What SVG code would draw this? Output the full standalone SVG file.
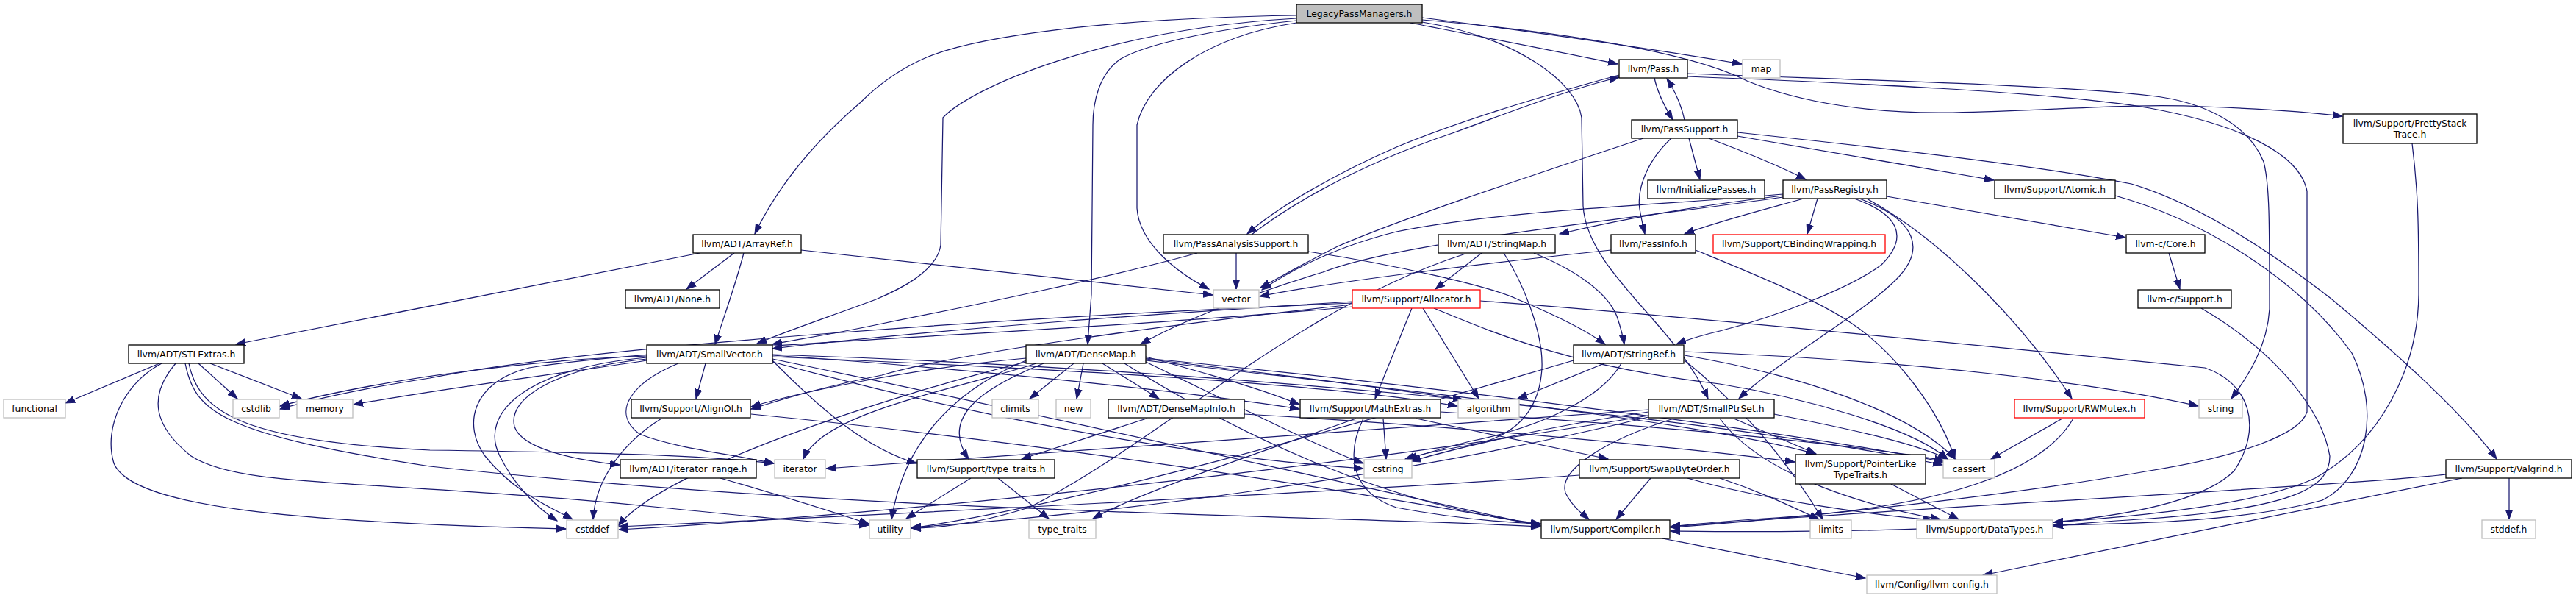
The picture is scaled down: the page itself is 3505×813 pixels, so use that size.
<svg xmlns="http://www.w3.org/2000/svg" width="3505" height="813" viewBox="0 0 3505 813">
<style>
.n rect{fill:#fff;stroke:#000;stroke-width:1.3}
.n.g rect{stroke:#bfbfbf}
.n.r rect{stroke:#ff0000}
.n.root rect{fill:#bfbfbf}
text{font-family:"DejaVu Sans","Liberation Sans",sans-serif;font-size:12.4px;text-anchor:middle;fill:#000}
#edges path{fill:none;stroke:#191970;stroke-width:1.25;marker-end:url(#a)}
</style>
<defs>
<marker id="a" markerUnits="userSpaceOnUse" markerWidth="14" markerHeight="11" refX="13" refY="5.5" orient="auto" viewBox="0 0 14 11"><path d="M0,0.8 L13,5.5 L0,10.2z" fill="#191970" stroke="#191970" stroke-width="1"/></marker>
</defs>
<rect width="3505" height="813" fill="#fff"/>
<g id="edges">
<path d="M1919,31 C2000,47 2120,70 2201,87"/>
<path d="M1935,24 C2100,45 2250,67 2370,87"/>
<path d="M1935,27 C2150,45 2310,75 2377,110 C2450,140 2550,155 2657,153 C2800,150 2900,140 3000,145 C3080,148 3140,152 3187,158"/>
<path d="M1935,30 C2060,50 2145,110 2152,160 L2154,280 C2160,370 2280,440 2324,542"/>
<path d="M1764,21 C1500,25 1330,50 1263,77 C1220,95 1190,120 1170,140 C1100,200 1055,260 1027,318"/>
<path d="M1764,25 C1500,40 1320,120 1283,160 L1280,333 C1275,370 1220,395 1192,407 C1130,430 1070,450 1030,467"/>
<path d="M1764,28 C1650,40 1560,60 1525,80 C1495,100 1487,140 1487,170 L1485,400 C1483,430 1481,450 1480,468"/>
<path d="M1764,31 C1640,50 1560,110 1547,170 L1547,283 C1550,330 1600,370 1645,393"/>
<path d="M2251,106 C2255,125 2265,145 2276,163"/>
<path d="M2292,163 C2288,145 2280,125 2268,107"/>
<path d="M2203,102 C2100,130 1979,167 1900,200 C1820,235 1740,280 1697,318"/>
<path d="M1703,319 C1740,290 1830,230 1979,180 C2060,150 2140,120 2203,105"/>
<path d="M2296,100 C2500,108 2800,115 2925,130 C3000,138 3060,170 3080,220 C3088,250 3088,300 3088,420 C3085,470 3060,510 3036,542"/>
<path d="M2296,104 C2500,112 2800,125 2925,147 C3050,170 3130,210 3139,260 L3139,560 C3130,590 3050,620 2925,640 C2700,680 2400,708 2273,717"/>
<path d="M2236,188 C2050,250 1900,300 1820,335 C1780,355 1745,375 1715,391"/>
<path d="M2274,188 C2240,220 2225,260 2232,290 C2234,300 2236,310 2238,318"/>
<path d="M2298,188 L2313,244"/>
<path d="M2325,188 C2370,205 2420,225 2457,244"/>
<path d="M2364,185 L2713,245"/>
<path d="M2364,180 C2600,205 2800,230 2900,250 C3000,280 3100,350 3173,407 C3260,480 3350,560 3397,624"/>
<path d="M2473,270 L2459,318"/>
<path d="M2567,267 L2892,323"/>
<path d="M2454,270 C2400,285 2340,300 2292,318"/>
<path d="M2426,266 C2340,276 2240,290 2122,318"/>
<path d="M2426,264 C2250,280 2050,285 1900,315 C1820,335 1760,365 1717,394"/>
<path d="M2426,268 C2200,300 1900,330 1800,370 C1700,400 1600,440 1552,468"/>
<path d="M2523,270 C2580,290 2600,320 2560,360 C2520,390 2420,430 2340,450 C2310,457 2295,462 2281,468"/>
<path d="M2530,270 C2610,300 2620,340 2580,380 C2530,430 2420,490 2366,542"/>
<path d="M2540,270 C2650,330 2760,450 2819,542"/>
<path d="M2192,340 C2000,360 1800,385 1714,403"/>
<path d="M2307,340 C2380,370 2472,407 2520,440 C2580,480 2640,560 2660,624"/>
<path d="M2878,266 C3000,300 3128,380 3200,480 C3240,560 3220,650 3160,680 C3050,710 2900,712 2794,714"/>
<path d="M2951,344 L2966,393"/>
<path d="M2995,419 C3100,480 3160,560 3170,620 C3170,660 3130,690 2925,705 C2850,710 2820,712 2794,716"/>
<path d="M3282,195 C3290,260 3291,300 3291,400 C3290,500 3240,600 3150,650 C3000,720 2500,725 2273,722"/>
<path d="M3414,650 L3414,706"/>
<path d="M3328,645 C3200,660 2600,690 2273,716"/>
<path d="M3350,650 C3150,690 2900,740 2698,782"/>
<path d="M999,344 L934,393"/>
<path d="M1012,344 C1000,390 985,430 973,468"/>
<path d="M952,344 L321,468"/>
<path d="M1090,340 L1650,401"/>
<path d="M1682,344 L1682,393"/>
<path d="M1629,344 C1500,380 1300,420 1200,440 C1130,455 1080,462 1051,468"/>
<path d="M1780,342 C1900,360 2030,390 2065,407 C2120,430 2160,450 2184,468"/>
<path d="M2016,344 L1953,393"/>
<path d="M2087,344 C2150,370 2188,400 2200,430 C2205,445 2208,455 2210,468"/>
<path d="M2046,344 C2070,380 2100,450 2098,500 C2095,560 2060,595 2000,605 C1960,612 1930,618 1912,624"/>
<path d="M1994,345 C1760,420 1580,600 1400,690 C1320,715 1270,718 1240,718"/>
<path d="M1921,419 L1871,542"/>
<path d="M1936,419 L2012,542"/>
<path d="M1840,410 C1600,425 1300,445 1051,474"/>
<path d="M1840,414 C1600,440 1300,480 1200,510 C1100,530 1050,548 1022,556"/>
<path d="M1840,417 C1500,450 900,470 720,500 C640,520 630,580 660,620 C700,670 750,690 779,706"/>
<path d="M1840,412 C1400,430 800,470 585,514 C480,530 420,545 381,556"/>
<path d="M2014,409 C2300,430 2800,480 3000,500 C3060,520 3080,580 3040,640 C3000,680 2900,700 2794,710"/>
<path d="M1951,419 C2050,460 2150,500 2340,522 C2450,540 2600,580 2650,624"/>
<path d="M960,494 L947,542"/>
<path d="M880,488 C760,500 690,540 700,580 C710,610 780,625 843,632"/>
<path d="M923,494 C860,520 830,560 870,590 C920,610 1000,618 1053,630"/>
<path d="M880,486 C720,500 650,560 680,620 C700,660 730,690 758,708"/>
<path d="M880,484 C700,490 500,520 381,552"/>
<path d="M880,490 C750,510 620,525 481,550"/>
<path d="M1051,488 C1400,560 1800,650 2096,715"/>
<path d="M1051,483 C1300,500 1600,530 1768,556"/>
<path d="M1051,490 C1120,560 1180,610 1247,630"/>
<path d="M1051,485 C1400,500 1800,520 1983,552"/>
<path d="M1051,482 C1600,500 2300,560 2643,632"/>
<path d="M1051,492 C1300,560 1600,620 1855,637"/>
<path d="M1461,494 L1401,542"/>
<path d="M1474,494 L1465,542"/>
<path d="M1500,494 L1577,542"/>
<path d="M1420,494 C1330,530 1280,570 1318,624"/>
<path d="M1396,490 C1300,530 1230,600 1213,706"/>
<path d="M1396,487 C1250,500 1100,530 1022,553"/>
<path d="M1410,494 C1300,530 1120,560 1093,624"/>
<path d="M1396,492 C1200,540 900,640 841,715"/>
<path d="M1559,485 C1650,510 1720,530 1768,550"/>
<path d="M1559,488 C1750,510 1900,530 1990,543"/>
<path d="M1559,487 C1900,520 2400,580 2645,628"/>
<path d="M1559,492 C1700,560 1800,610 1855,630"/>
<path d="M1530,494 C1700,600 1900,690 2096,712"/>
<path d="M1559,490 C1900,530 2300,570 2470,617"/>
<path d="M1560,569 L1390,624"/>
<path d="M1693,563 C2000,580 2300,610 2442,628"/>
<path d="M1321,650 L1233,705"/>
<path d="M1358,650 L1427,705"/>
<path d="M980,650 C1050,670 1130,695 1182,712"/>
<path d="M900,569 C850,600 810,650 807,706"/>
<path d="M1022,563 C1400,600 1800,660 2096,714"/>
<path d="M1882,569 L1886,624"/>
<path d="M1855,569 C1830,620 1840,670 1900,690 C1980,705 2040,710 2096,712"/>
<path d="M1927,569 L2188,624"/>
<path d="M1845,569 C1700,620 1550,670 1487,705"/>
<path d="M1960,560 C2200,575 2500,600 2645,626"/>
<path d="M2277,569 C2180,600 2120,640 2130,670 C2140,690 2155,700 2162,706"/>
<path d="M2359,569 L2471,617"/>
<path d="M2340,569 C2400,650 2550,690 2640,706"/>
<path d="M2414,563 C2500,580 2600,600 2650,624"/>
<path d="M2243,565 C1800,640 1200,700 842,720"/>
<path d="M2243,560 C2100,580 1980,610 1920,627"/>
<path d="M2243,557 C1900,580 1400,620 1124,637"/>
<path d="M2243,567 C1900,650 1500,700 1240,717"/>
<path d="M2246,650 L2199,706"/>
<path d="M2296,650 C2400,680 2550,700 2630,707"/>
<path d="M2340,650 C2400,670 2440,690 2475,706"/>
<path d="M2149,646 C1800,670 1200,700 842,716"/>
<path d="M2183,494 L2065,542"/>
<path d="M2206,494 C2180,540 2100,580 2000,600 C1960,610 1935,618 1915,624"/>
<path d="M2292,483 C2450,510 2600,560 2660,624"/>
<path d="M2292,478 C2600,490 2850,520 2991,552"/>
<path d="M2292,490 C2380,560 2440,640 2480,706"/>
<path d="M2141,490 C1900,560 1500,680 1240,718"/>
<path d="M2573,658 L2665,706"/>
<path d="M2806,569 L2709,624"/>
<path d="M2821,569 C2780,640 2650,690 2400,705 C2330,710 2290,714 2273,716"/>
<path d="M217,494 L89,548"/>
<path d="M270,494 L323,542"/>
<path d="M286,494 L410,542"/>
<path d="M220,494 C170,520 140,580 155,630 C180,690 400,710 770,719"/>
<path d="M239,494 C200,540 210,580 260,620 C330,665 500,650 900,690 C1000,700 1100,710 1182,714"/>
<path d="M257,494 C270,560 330,600 585,612 C800,615 950,618 1053,630"/>
<path d="M252,494 C265,560 300,590 585,634 C1200,700 1800,700 2096,716"/>
<path d="M2262,732 L2538,786"/>
</g>
<g id="n_lpm" class="n root"><rect x="1764" y="6" width="171" height="25"/><text x="1849.5" y="22.8">LegacyPassManagers.h</text></g>
<g id="n_pass" class="n"><rect x="2203" y="81" width="93" height="25"/><text x="2249.5" y="97.8">llvm/Pass.h</text></g>
<g id="n_map" class="n g"><rect x="2371" y="81" width="51" height="25"/><text x="2396.5" y="97.8">map</text></g>
<g id="n_passsupport" class="n"><rect x="2220" y="163" width="144" height="25"/><text x="2292" y="179.8">llvm/PassSupport.h</text></g>
<g id="n_pst" class="n"><rect x="3188" y="155" width="182" height="40"/><text x="3279" y="171.7">llvm/Support/PrettyStack</text><text x="3279" y="186.7">Trace.h</text></g>
<g id="n_initpasses" class="n"><rect x="2242" y="245" width="159" height="25"/><text x="2321.5" y="261.8">llvm/InitializePasses.h</text></g>
<g id="n_passregistry" class="n"><rect x="2426" y="245" width="141" height="25"/><text x="2496.5" y="261.8">llvm/PassRegistry.h</text></g>
<g id="n_atomic" class="n"><rect x="2714" y="245" width="164" height="25"/><text x="2796" y="261.8">llvm/Support/Atomic.h</text></g>
<g id="n_arrayref" class="n"><rect x="943" y="319" width="147" height="25"/><text x="1016.5" y="335.8">llvm/ADT/ArrayRef.h</text></g>
<g id="n_pas" class="n"><rect x="1583" y="319" width="197" height="25"/><text x="1681.5" y="335.8">llvm/PassAnalysisSupport.h</text></g>
<g id="n_stringmap" class="n"><rect x="1957" y="319" width="159" height="25"/><text x="2036.5" y="335.8">llvm/ADT/StringMap.h</text></g>
<g id="n_passinfo" class="n"><rect x="2192" y="319" width="115" height="25"/><text x="2249.5" y="335.8">llvm/PassInfo.h</text></g>
<g id="n_cbinding" class="n r"><rect x="2331" y="319" width="234" height="25"/><text x="2448" y="335.8">llvm/Support/CBindingWrapping.h</text></g>
<g id="n_core" class="n"><rect x="2893" y="319" width="107" height="25"/><text x="2946.5" y="335.8">llvm-c/Core.h</text></g>
<g id="n_none" class="n"><rect x="851" y="394" width="128" height="25"/><text x="915" y="410.8">llvm/ADT/None.h</text></g>
<g id="n_vector" class="n g"><rect x="1651" y="394" width="62" height="25"/><text x="1682" y="410.8">vector</text></g>
<g id="n_allocator" class="n r"><rect x="1840" y="394" width="174" height="25"/><text x="1927" y="410.8">llvm/Support/Allocator.h</text></g>
<g id="n_csupport" class="n"><rect x="2909" y="394" width="127" height="25"/><text x="2972.5" y="410.8">llvm-c/Support.h</text></g>
<g id="n_stlextras" class="n"><rect x="175" y="469" width="157" height="25"/><text x="253.5" y="485.8">llvm/ADT/STLExtras.h</text></g>
<g id="n_smallvector" class="n"><rect x="880" y="469" width="171" height="25"/><text x="965.5" y="485.8">llvm/ADT/SmallVector.h</text></g>
<g id="n_densemap" class="n"><rect x="1396" y="469" width="163" height="25"/><text x="1477.5" y="485.8">llvm/ADT/DenseMap.h</text></g>
<g id="n_stringref" class="n"><rect x="2141" y="469" width="150" height="25"/><text x="2216" y="485.8">llvm/ADT/StringRef.h</text></g>
<g id="n_functional" class="n g"><rect x="5" y="543" width="84" height="25"/><text x="47" y="559.8">functional</text></g>
<g id="n_cstdlib" class="n g"><rect x="317" y="543" width="63" height="25"/><text x="348.5" y="559.8">cstdlib</text></g>
<g id="n_memory" class="n g"><rect x="404" y="543" width="76" height="25"/><text x="442" y="559.8">memory</text></g>
<g id="n_alignof" class="n"><rect x="859" y="543" width="162" height="25"/><text x="940" y="559.8">llvm/Support/AlignOf.h</text></g>
<g id="n_climits" class="n g"><rect x="1350" y="543" width="63" height="25"/><text x="1381.5" y="559.8">climits</text></g>
<g id="n_new" class="n g"><rect x="1437" y="543" width="47" height="25"/><text x="1460.5" y="559.8">new</text></g>
<g id="n_densemapinfo" class="n"><rect x="1508" y="543" width="185" height="25"/><text x="1600.5" y="559.8">llvm/ADT/DenseMapInfo.h</text></g>
<g id="n_mathextras" class="n"><rect x="1769" y="543" width="191" height="25"/><text x="1864.5" y="559.8">llvm/Support/MathExtras.h</text></g>
<g id="n_algorithm" class="n g"><rect x="1984" y="543" width="83" height="25"/><text x="2025.5" y="559.8">algorithm</text></g>
<g id="n_smallptrset" class="n"><rect x="2243" y="543" width="171" height="25"/><text x="2328.5" y="559.8">llvm/ADT/SmallPtrSet.h</text></g>
<g id="n_rwmutex" class="n r"><rect x="2741" y="543" width="177" height="25"/><text x="2829.5" y="559.8">llvm/Support/RWMutex.h</text></g>
<g id="n_string" class="n g"><rect x="2992" y="543" width="59" height="25"/><text x="3021.5" y="559.8">string</text></g>
<g id="n_iterrange" class="n"><rect x="844" y="625" width="185" height="25"/><text x="936.5" y="641.8">llvm/ADT/iterator_range.h</text></g>
<g id="n_iterator" class="n g"><rect x="1054" y="625" width="69" height="25"/><text x="1088.5" y="641.8">iterator</text></g>
<g id="n_typetraitsh" class="n"><rect x="1248" y="625" width="187" height="25"/><text x="1341.5" y="641.8">llvm/Support/type_traits.h</text></g>
<g id="n_cstring" class="n g"><rect x="1856" y="625" width="65" height="25"/><text x="1888.5" y="641.8">cstring</text></g>
<g id="n_swapbyteorder" class="n"><rect x="2149" y="625" width="218" height="25"/><text x="2258" y="641.8">llvm/Support/SwapByteOrder.h</text></g>
<g id="n_pointerlike" class="n"><rect x="2443" y="618" width="177" height="40"/><text x="2531.5" y="634.7">llvm/Support/PointerLike</text><text x="2531.5" y="649.7">TypeTraits.h</text></g>
<g id="n_cassert" class="n g"><rect x="2644" y="625" width="70" height="25"/><text x="2679" y="641.8">cassert</text></g>
<g id="n_valgrind" class="n"><rect x="3328" y="625" width="171" height="25"/><text x="3413.5" y="641.8">llvm/Support/Valgrind.h</text></g>
<g id="n_cstddef" class="n g"><rect x="771" y="707" width="70" height="25"/><text x="806" y="723.8">cstddef</text></g>
<g id="n_utility" class="n g"><rect x="1183" y="707" width="56" height="25"/><text x="1211" y="723.8">utility</text></g>
<g id="n_typetraits" class="n g"><rect x="1400" y="707" width="91" height="25"/><text x="1445.5" y="723.8">type_traits</text></g>
<g id="n_compiler" class="n"><rect x="2097" y="707" width="175" height="25"/><text x="2184.5" y="723.8">llvm/Support/Compiler.h</text></g>
<g id="n_limits" class="n g"><rect x="2463" y="707" width="56" height="25"/><text x="2491" y="723.8">limits</text></g>
<g id="n_datatypes" class="n g"><rect x="2608" y="707" width="185" height="25"/><text x="2700.5" y="723.8">llvm/Support/DataTypes.h</text></g>
<g id="n_stddef" class="n g"><rect x="3377" y="707" width="73" height="25"/><text x="3413.5" y="723.8">stddef.h</text></g>
<g id="n_config" class="n g"><rect x="2540" y="782" width="177" height="25"/><text x="2628.5" y="798.8">llvm/Config/llvm-config.h</text></g>
</svg>
